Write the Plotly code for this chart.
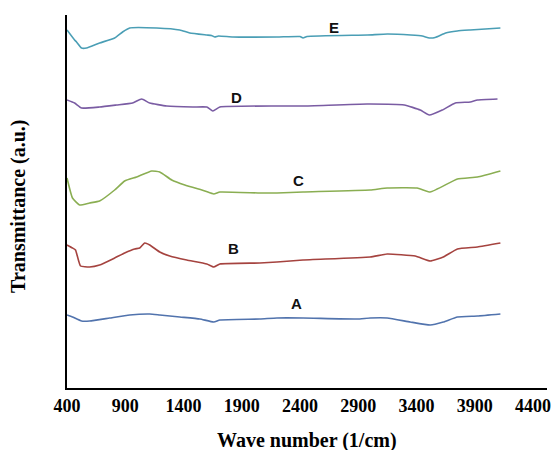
import plotly.graph_objects as go

# Wavenumbers (1/cm) and transmittance (a.u., offset-stacked) per sample
wn_A = [400, 447, 525, 594, 766, 938, 1110, 1196, 1368, 1540, 1660, 1712, 2056, 2202, 2426, 2890, 3002, 3148, 3346, 3518, 3630, 3751, 3923, 4120]
t_A = [73, 71, 67, 67, 70, 73, 74, 73, 71, 69, 66, 68, 69, 70, 70, 69, 70, 70, 66, 63, 66, 71, 72, 74]

wn_B = [400, 447, 473, 516, 594, 680, 809, 895, 981, 1024, 1067, 1110, 1196, 1282, 1428, 1600, 1660, 1712, 2056, 2202, 2426, 3002, 3148, 3389, 3518, 3630, 3751, 3923, 4120]
t_B = [143, 140, 138, 122, 121, 123, 130, 135, 139, 140, 145, 143, 136, 132, 128, 124, 121, 124, 125, 126, 128, 131, 134, 132, 127, 131, 139, 141, 145]

wn_C = [400, 447, 508, 594, 680, 809, 895, 998, 1127, 1196, 1299, 1411, 1583, 1660, 1712, 2056, 2202, 2426, 3002, 3148, 3406, 3518, 3751, 3923, 4120]
t_C = [210, 190, 183, 185, 187, 198, 207, 211, 217, 216, 208, 203, 197, 194, 196, 195, 195, 196, 198, 200, 200, 196, 209, 211, 217]

wn_D = [400, 465, 525, 680, 826, 963, 1041, 1110, 1256, 1480, 1600, 1652, 1712, 2202, 2426, 2976, 3295, 3432, 3510, 3621, 3733, 3862, 3923, 4095]
t_D = [288, 285, 280, 281, 283, 285, 289, 285, 282, 281, 281, 277, 281, 282, 282, 284, 283, 278, 273, 278, 285, 286, 288, 289]

wn_E = [400, 465, 482, 525, 568, 680, 809, 877, 938, 1170, 1368, 1454, 1600, 1640, 1669, 1700, 1824, 2202, 2400, 2426, 2460, 2980, 3150, 3350, 3450, 3510, 3560, 3650, 3750, 3860, 4120]
t_E = [358, 348, 346, 340, 340, 345, 350, 356, 360, 360, 358, 355, 353, 352.5, 351, 352, 351, 351, 351.5, 350, 351.5, 353, 354, 353, 352, 350, 350.5, 355, 357, 358, 360]

series_names = ["A", "B", "C", "D", "E"]
series_colors = ["#5173AD", "#A5433F", "#8AAE52", "#7A5CA3", "#4A9EB5"]

# Curve label positions (wavenumber, transmittance)
label_wn = [2366, 1825, 2383, 1859, 2692]
label_t = [85, 140, 208, 291, 361]

x_ticks = [400, 900, 1400, 1900, 2400, 2900, 3400, 3900, 4400]

fig = go.Figure()
data = [(wn_A, t_A), (wn_B, t_B), (wn_C, t_C), (wn_D, t_D), (wn_E, t_E)]
for (x, y), name, color in zip(data, series_names, series_colors):
    fig.add_trace(go.Scatter(x=x, y=y, mode="lines", name=name,
                             line=dict(color=color, width=1.6, shape="spline", smoothing=0.4),
                             showlegend=False))

for name, lx, ly in zip(series_names, label_wn, label_t):
    fig.add_annotation(x=lx, y=ly, text="<b>%s</b>" % name, showarrow=False,
                       font=dict(family="Liberation Sans, Arial", size=15, color="#111"))

# Axis titles as paper-anchored annotations
fig.add_annotation(xref="paper", yref="paper", x=0.5, y=0, yshift=-52,
                   xanchor="center", yanchor="middle", showarrow=False,
                   text="<b>Wave number (1/cm)</b>",
                   font=dict(family="Liberation Serif", size=20, color="black"))
fig.add_annotation(xref="paper", yref="paper", x=0, y=0.488, xshift=-48,
                   xanchor="center", yanchor="middle", showarrow=False, textangle=-90,
                   text="<b>Transmittance (a.u.)</b>",
                   font=dict(family="Liberation Serif", size=20, color="black"))

fig.update_layout(
    width=554, height=450,
    margin=dict(l=67, r=7, t=15, b=62, autoexpand=False),
    paper_bgcolor="white", plot_bgcolor="white",
    font=dict(family="Liberation Serif, Times New Roman", color="black"),
)
fig.update_xaxes(
    range=[400, 4520], tickvals=x_ticks, ticktext=[f"<b>{v}</b>" for v in x_ticks],
    tickfont=dict(family="Liberation Serif", size=18, color="black"),
    showgrid=False, zeroline=False, showline=True, linecolor="black", linewidth=2,
    ticks="", automargin=False,
)
fig.update_yaxes(
    range=[0, 373], showticklabels=False, showgrid=False, zeroline=False,
    showline=True, linecolor="black", linewidth=2, ticks="", automargin=False,
)

# Remove the default page margin so the figure fills the window exactly
fig.write_html("out.html",
               config={"displayModeBar": False},
               post_script="document.body.style.margin='0';document.body.style.overflow='hidden';")
